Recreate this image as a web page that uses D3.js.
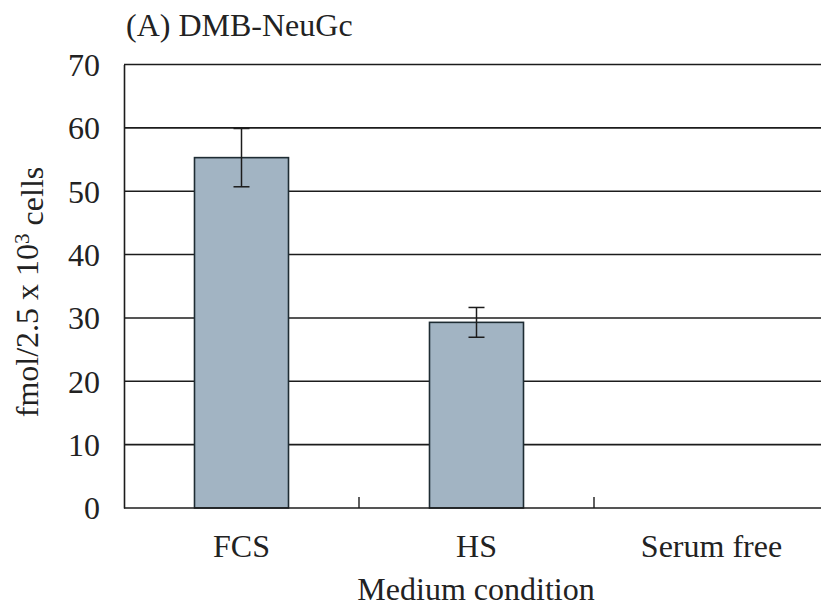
<!DOCTYPE html>
<html>
<head>
<meta charset="utf-8">
<script src="https://cdn.jsdelivr.net/npm/d3@7"></script>
<style>
  html, body { margin: 0; padding: 0; background: #fff; }
  svg { display: block; }
  text { font-family: "Liberation Serif", "Times New Roman", serif; fill: #222; }
</style>
</head>
<body>
<svg id="chart" width="821" height="609"></svg>
<script>
// DMB-NeuGc content by medium condition
const categories = ["FCS", "HS", "Serum free"];
const values = [55.3, 29.3, 0];
const errors = [4.6, 2.35, 0];
const yTicks = [0, 10, 20, 30, 40, 50, 60, 70];

const svg = d3.select("#chart");
const margin = { left: 124, top: 64.5, right: -8, bottom: 101 };
const W = 821, H = 609;
const x0 = margin.left, x1 = W - margin.right;
const yTop = margin.top, yBot = H - margin.bottom;

const x = d3.scaleBand().domain(categories).range([x0, x1])
  .paddingInner(0.6).paddingOuter(0.3);
const y = d3.scaleLinear().domain([0, 70]).range([yBot, yTop]);

const ink = "#1c1c1c";
const fs = "32px";

// horizontal gridlines
svg.append("g").selectAll("line").data(yTicks.filter(d => d > 0)).join("line")
  .attr("x1", x0).attr("x2", x1)
  .attr("y1", d => y(d)).attr("y2", d => y(d))
  .attr("stroke", ink).attr("stroke-width", 1.6);

// bars
svg.append("g").selectAll("rect").data(values).join("rect")
  .attr("x", (d, i) => x(categories[i]))
  .attr("y", d => y(d))
  .attr("width", x.bandwidth())
  .attr("height", d => y(0) - y(d))
  .attr("fill", "#a2b4c3")
  .attr("stroke", "#1e2c33").attr("stroke-width", 1.6)
  .attr("display", d => d > 0 ? null : "none");

// error bars
const eb = svg.append("g").attr("stroke", ink).attr("stroke-width", 1.5);
values.forEach((v, i) => {
  if (!errors[i]) return;
  const cx = x(categories[i]) + x.bandwidth() / 2;
  eb.append("line").attr("x1", cx).attr("x2", cx)
    .attr("y1", y(v + errors[i])).attr("y2", y(v - errors[i]));
  [v + errors[i], v - errors[i]].forEach(e => {
    eb.append("line").attr("x1", cx - 8).attr("x2", cx + 8)
      .attr("y1", y(e)).attr("y2", y(e));
  });
});

// y axis
const yAxis = svg.append("g").attr("transform", `translate(${x0},0)`)
  .call(d3.axisLeft(y).tickValues(yTicks).tickSize(0).tickPadding(24));
yAxis.select(".domain").attr("stroke", ink).attr("stroke-width", 1.6);
yAxis.selectAll("text")
  .style("font-family", '"Liberation Serif", serif')
  .style("font-size", fs).attr("fill", "#222").attr("dy", "0.34em");

// x axis with tick marks between categories
const xAxisG = svg.append("g").attr("transform", `translate(0,${yBot})`);
xAxisG.append("line").attr("x1", x0).attr("x2", x1).attr("y1", 0).attr("y2", 0)
  .attr("stroke", ink).attr("stroke-width", 1.6);
const step = x.step();
const bounds = categories.slice(1).map(c => x(c) - step * x.paddingInner() / 2);
xAxisG.selectAll("line.tick").data(bounds).join("line").attr("class", "tick")
  .attr("x1", d => d).attr("x2", d => d).attr("y1", 0).attr("y2", -11)
  .attr("stroke", ink).attr("stroke-width", 1.4);
xAxisG.selectAll("text").data(categories).join("text")
  .attr("x", d => x(d) + x.bandwidth() / 2).attr("y", 49)
  .attr("text-anchor", "middle").style("font-size", fs).text(d => d);

// axis titles
svg.append("text").attr("x", 476).attr("y", 600)
  .attr("text-anchor", "middle").style("font-size", fs).text("Medium condition");

const yLabel = svg.append("text")
  .attr("transform", "translate(38,292) rotate(-90)")
  .attr("text-anchor", "middle").style("font-size", "32px");
yLabel.append("tspan").text("fmol/2.5 x 10");
yLabel.append("tspan").attr("dy", "-0.42em").style("font-size", "21px").text("3");
yLabel.append("tspan").attr("dy", "0.42em").text(" cells");

// panel title
svg.append("text").attr("x", 126).attr("y", 36)
  .style("font-size", fs).text("(A) DMB-NeuGc");
</script>
</body>
</html>
